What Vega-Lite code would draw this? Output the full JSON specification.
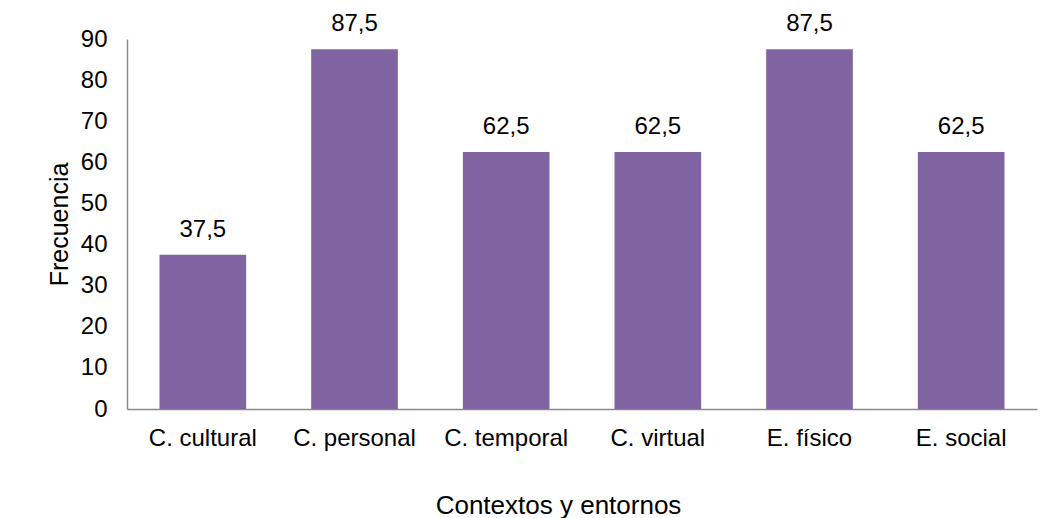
{
  "$schema": "https://vega.github.io/schema/vega-lite/v6.json",
  "autosize": "none",
  "width": 910,
  "height": 370,
  "padding": {"left": 127, "top": 39, "right": 22, "bottom": 109},
  "background": "white",
  "config": {
    "view": {"stroke": null},
    "font": "Liberation Sans",
    "locale": {"number": {"decimal": ",", "thousands": ".", "grouping": [3], "currency": ["", " €"]}}
  },
  "data": {
    "values": [
      {"categoria": "C. cultural", "frecuencia": 37.5},
      {"categoria": "C. personal", "frecuencia": 87.5},
      {"categoria": "C. temporal", "frecuencia": 62.5},
      {"categoria": "C. virtual", "frecuencia": 62.5},
      {"categoria": "E. físico", "frecuencia": 87.5},
      {"categoria": "E. social", "frecuencia": 62.5}
    ]
  },
  "encoding": {
    "x": {
      "field": "categoria",
      "type": "nominal",
      "sort": null,
      "scale": {"paddingInner": 0.4286, "paddingOuter": 0.2143},
      "axis": {
        "title": "Contextos y entornos",
        "labelAngle": 0,
        "labelFontSize": 24,
        "labelColor": "#000000",
        "labelPadding": 17,
        "ticks": false,
        "domainColor": "#8a8a8a",
        "domainWidth": 1.5,
        "titleFontSize": 26,
        "titleFontWeight": "normal",
        "titleColor": "#000000",
        "titleX": 431,
        "titleY": 104,
        "titleBaseline": "alphabetic",
        "titleAlign": "center"
      }
    },
    "y": {
      "field": "frecuencia",
      "type": "quantitative",
      "scale": {"domain": [0, 90], "nice": false},
      "axis": {
        "title": "Frecuencia",
        "values": [0, 10, 20, 30, 40, 50, 60, 70, 80, 90],
        "grid": false,
        "ticks": false,
        "labelFontSize": 24,
        "labelColor": "#000000",
        "labelPadding": 20,
        "domainColor": "#8a8a8a",
        "domainWidth": 1.5,
        "titleFontSize": 25,
        "titleFontWeight": "normal",
        "titleColor": "#000000",
        "titleX": -68,
        "titleY": 185,
        "titleBaseline": "middle",
        "titleAlign": "center",
        "titleAngle": 270
      }
    }
  },
  "layer": [
    {"mark": {"type": "bar", "color": "#8064A2"}},
    {
      "mark": {"type": "text", "fontSize": 24, "color": "#000000", "baseline": "alphabetic", "dy": -18},
      "encoding": {"text": {"field": "frecuencia", "type": "quantitative", "format": ".1f"}}
    }
  ]
}
